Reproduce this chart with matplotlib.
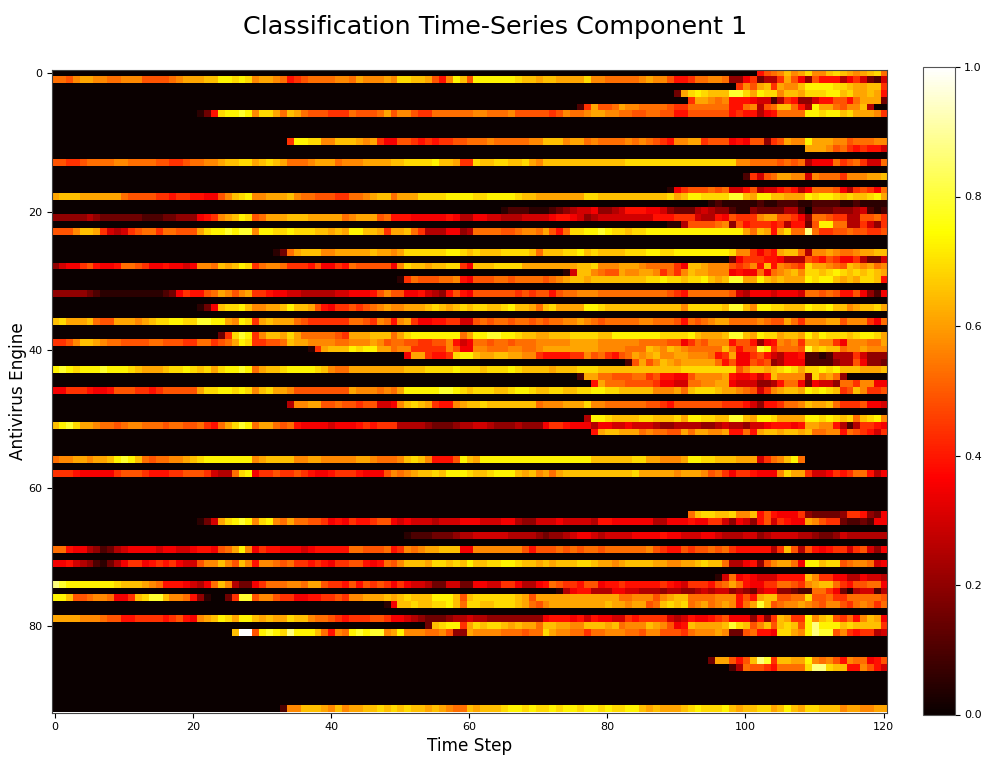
import numpy as np
import matplotlib
matplotlib.use("Agg")
import matplotlib.pyplot as plt

n_engines = 93
n_steps = 121
title = "Classification Time-Series Component 1"
x_label = "Time Step"
y_label = "Antivirus Engine"
x_ticks = [0, 20, 40, 60, 80, 100, 120]
y_ticks = [0, 20, 40, 60, 80]
cbar_ticks = [0.0, 0.2, 0.4, 0.6, 0.8, 1.0]

# one letter per cell, read against the colour bar
levels = ".abcdefghijklmnopqrst"
level_values = [0.0, 0.05, 0.10, 0.15, 0.20, 0.25, 0.30, 0.35, 0.39, 0.44, 0.49,
                0.53, 0.57, 0.61, 0.65, 0.69, 0.73, 0.79, 0.87, 0.93, 1.0]

# rows not listed are all zero
active_rows = [0, 1, 2, 3, 4, 5, 6, 10, 11, 13, 15, 17, 18, 19, 20, 21, 22, 23, 26, 27,
               28, 29, 30, 32, 34, 36, 38, 39, 40, 41, 42, 43, 44, 45, 46, 48, 50, 51,
               52, 56, 58, 64, 65, 67, 69, 71, 73, 74, 75, 76, 77, 79, 80, 81, 85, 86, 92]

# blocks of ten time steps, leading empty blocks left out
row_levels = [
    "..hjklnlmo llnonmlmno k",
    "kkjlmmllkk llljjjjklm mmnnppopol mmlkhijkkk kllkmlllml oonnmjhlpn jpppppponn mnnmmmmoll kkkkklmllj hhikkllkdd giceeimjgd jhhhegifcb f",
    ".........i ljmnimllnp pppoonmmnn i",
    "cmoponnnqq ompoolnnmo ooppnommnm h",
    "..immlklhh hgffbeihdd fhhjjhkmmm c",
    "......bimj jkmllkkkkj iikkkkkkhh klejknnkhe pmmkjllne. .",
    ".achoppqpl oomknmkjjj iiikjjjkmj lljiikkkkk kllkkkljjj jjijlkklmm llkkjjkkjj hhjjjjjjhi hheghkkkkp poppnommml i",
    "....ippool lnnnmlmigg jjihihiijj kkklkkkkkl lnnnlmmklk kkklklkjih llmmijjjgh gjjdijmllp mmmlljkkkl l",
    ".........m mmljkihihh f",
    "jjiijkkkkl lkkkkjjiij kkllmnnoom nonmkkklmm mklllmmmmn noooopnnmi ionnoonnom lnnnnnnnnn nnnooooooo oooooooool lkkkkjkjke gggkijkiff k",
    "bifjkmmllf lkkkilllmm n",
    ".........a gijjjkjkff hjeffhiheg kkkjgeijig k",
    "mnnnmmmmmm kjjjjiihii hhggjlnopl lmmmnlkkjj jiikklmnnk mmmooooppp poopppponn mmmmmmmoon nnnnnnnnno mnppooooqq nmppnnmmmp oppononnop m",
    ".....abaaa aabaabbbaa bbbbaabaaa a",
    ".....abbba aabcdeffgd defhhhggfd cccefeddba adcccceeb. cccdddefba b",
    "dddddedccc cccbbbccdd dghilmnpoj kmmmnnnmmm mmklmmmjkh hhggggghge eggffeeeff ffghhgfdef fffffffhhh iiifeehgji iilmmjjigd kkjiieejjk i",
    ".........a aejjjjkldj hiiihiehhc jppkkeeifd i",
    "jjjlnnmife fijkkikkjj jmoppqpqql ppoopooonn mnmppnnmim mnkieeeggd ekkkkjjkll kmjhkooppq poonoopppp pppppppppp mknmhmokkr kiijjkjjii j",
    "..ackmnnnl lmmmmmnmml mooooooppo nonnnoooon knnnoopnon nnnoooppoo ppppppppol ligihmnnke llmlkklmmn n",
    "........cg iiihhgeeej ihjiggiecc f",
    "dfggijhggh kkjigghggf gllknmnpoi kllkiiihjg gihkjjjjjg lonnmnnooi gnnnoooomm mmmmmmnnol llmmmlkkkk ignnmlllji jlhnhlkjio mmlkjnmlmk l",
    "....afnnlk jjmllmmlik ilnmmlllgh ggkgklmnlo onopononon m",
    "aikjjjkklh gjjjkkjkkk kjklmnnmnn nnnnnnoopo onoopnmnqq mmpnmnmmmp oppnmnmoon h",
    "dddddcbaaa aaaaaabcgi hhjkmljlmi ihggffeeee effggghjlj jgghfedhjh gjjjjjjiji jjhjkklllk kkkkkkkkkj ihkkkkkkjf egggfgggfk kjkjhhjgdb g",
    ".acgnoopnl lmmnpnnmjh giijijklml lmmmnonmno noonnopnnm knommmmppo nnnnnnnnnn nlooooonqq nlppoonnnp oopnnlmnno m",
    "nommmnkjjm mmlmnooppo oqqppmlpoi mnmmmkjiii iiikkjilkh lmigghhiif fjkjkkjkkj kjkkllmlkj kkkkkllkkk jhkjklmmkk kklkjjmkil llmmjlllig k",
    "....cioqpi lnnmomkkkk kjimmmnnnk mopppppppk mppqqpponn mmnnnoooon npppppppoo oopnmmmnqq nmpoomnnmp npooonoppo m",
    "iijlnnmlkk jjjjkkjjji ikkijkmpoi ijjknmmlll lkklllmljk kjjiijjlhf gkkjkkjkkk lllllmmmml lllllkkkkj jgikjlllhj jhdghlklim mlliglllkk m",
    ".......aim nnnpoppmmk lliiiiiljg gllkkkllkk lmmmmmmmml lllkkknmln mlkkkkknkh jjqpikkkjq nonnkllmll l",
    ".gmmihhiop pnmmnnmmll ihhhhiiljk ihjkmlmnll mmlllkhimg gijhfegghb babeeeifdd d",
    "...bjmjlnm lmmmmmkhjg gjijdegggb bbbdeejgdd c",
    "pqpopppqpp ponmmmnoop onomoppqpk mnnoppppon lkkmmmmmmm mnnnoooopo oonoooponn nnmnnnooon nnnnnnnnnn nooooooooj lnnmnopomo opopnnnmmm n",
    "......bmmk kjjjkkijhh ggjllllmhg ghfhnlllld olmkd..... .",
    "........hm kkkjjjjigg ffkkllmmgf ffddehkkgc gffdkkillg g",
    "ggiiihgghj jjiihijjjj jmooppopol nommljjjjj jjjmlllklk mpppppqqpo nooonnoppo nnoonnoopp oonnnnnlll mknooonmml kjfilmnnmp oponijnlii j",
    "....ellmmj jkjjijjffg lnonmihhlm nnonnnnnnn klllmmmoll kkkkkkjjih jjjjjjjiii hfdhhikkln mmnkiiijgg f",
    ".......epp onnnnoonnn omppoonnqq nmppommmmp poponoknop l",
    "npqommlkkj kllkkkjkkj jkihkmoqpk mmkjkhgggg fggghihiii eeeedcccde effedddedd dgiihgggeg gffgfffedd eeeeddefee dffghhhghm mllhebeiih g",
    "........hm nnmmmklkkj jmkmmllmhh khmnnmnnmn kkllhkjihf i",
    "kllmmlmmnp qpnkjkkllm nopppppppl mnnnnllmml llllmmlkkk lnonlhhhjp nmpppppppp ppppppppnn nnnnoommll lmppoonnnm mmfiklnpk. .......... .",
    "iiihgggggi jjjihhhiij jjifeekopg iijiijihgg hiiihgggjl klmnnonppp onnopppnmn lmkmnnnnnn nnnnommmmm lmmmljkigi ihggglommi ffgihikkhe g",
    "..knoonnol lnhjhgggid ccccdiihdc g",
    ".acfmopqpl oplkmkkjji ghgihhijjg fgfffefffg ggfffggedd fffgffffeh hggggggeeg gghggiifdg fdhjfihggm ljiicbbcbg g",
    ".abbbcccde efffffeeee dcddefggfe ffffgggghg gfffggfeee ffdeffffee dccdfeeeee e",
    "kkhggedbce fggggfggff ghhgjkmplg ihhgggfghh hhhkkjjjkh ilklmmnnng gllllllljh jjjkjkjkkj kkkkkkljih hjijjkjkih hhhheinjej hghiifijfd g",
    "gghfedbace giighihigf fjllnljnlh llkjkiihih giijjhghkj lnnnmoonon pnnoopponn mnmnnnoonm mlmnnnnmml lmmnonnkee ghdjlmmkgp pnoojkllkf g",
    "......afkg hgfffhhhhn liiggeegff e",
    "rqpppppppo nnnmlkhhhg fegknleccg ikkkllkmmj iihjhjijig igffeccffc cggffiigee ghkjiihjjg hhihhhhhih gfiiihjkmk hggiikkjil mnnkihjjkk g",
    "...aeghhee eggffeeede eddefeffde dcfggddcbb kkigcaeffb e",
    "ppnjjkllkg ginoqqnllk hda..ciqqj lljiigghhi ijillmmmnm nonnnpppnj noooooonmj mmmmmmmmmm mmkkllljlm nnkkkklllh jhmnnjjkko jjkiikkkkk j",
    "........ag nnonnoopnk oonnooonmk jlmmmmmmmm nmmlmmjkno noklmklmlh kmqnjkllml kjlljiklki k",
    "mmmmlllkjj hhiiiihijh glmnpomppn mnmmonnlkk jihiiijjig gfedcccdee feeddddddd dghhhghfhg gffihiiiif efhgghijgg gdhdinmiip lnojikhlnm g",
    "....cnoppi monoonmnmm knnmmllnnn mnklllnmlj ghnmmmmnqo njlnjnonjp rpppnonnnn i",
    "......nttj pqporpppnk hlkpqpqqlm plllkkljdd mllllkkkjk komllkkikk lllkkjlljj jiklllmlcc jkhhgoomlp rqqjlihiie f",
    ".....cmmjh jnrqinnmmp lkljhlkkgh j",
    "........be kjjihkkkko rronnhhljh f",
    "...bllnnnm lnlmmnnono nonnmnmlkk nmnnnoppop oopoppoppo pooppnmnmm mnopooopnm nnoomnpnmo onnnlmmllm m",
]

scores = np.zeros((n_engines, n_steps))
for row, text in zip(active_rows, row_levels):
    cells = text.replace(" ", "").rjust(n_steps, ".")[-n_steps:]
    scores[row] = [level_values[levels.index(c)] for c in cells]

fig = plt.figure(figsize=(9.91, 7.62), dpi=100)
W, H = 991.0, 762.0
ax = fig.add_axes([51.5 / W, 1 - 712.5 / H, 835.5 / W, 642.5 / H])
cax = fig.add_axes([923 / W, 1 - 714.5 / H, 32 / W, 647.5 / H])

im = ax.imshow(scores, cmap="hot", vmin=0, vmax=1, aspect="auto", interpolation="nearest")
ax.set_xticks(x_ticks)
ax.set_yticks(y_ticks)
ax.tick_params(labelsize=8, length=3.5, pad=3)
ax.set_xlabel(x_label, fontsize=12.2, labelpad=4)
ax.set_ylabel(y_label, fontsize=12.2, labelpad=1)
for spine in ax.spines.values():
    spine.set_color("#444444")

cbar = fig.colorbar(im, cax=cax, ticks=cbar_ticks)
cbar.ax.tick_params(labelsize=8, length=3.5, pad=3)
cbar.outline.set_edgecolor("#555555")

fig.text(495.5 / W, 1 - 27 / H, title, fontsize=18.25, ha="center", va="center")

fig.savefig("out.png", dpi=100)
